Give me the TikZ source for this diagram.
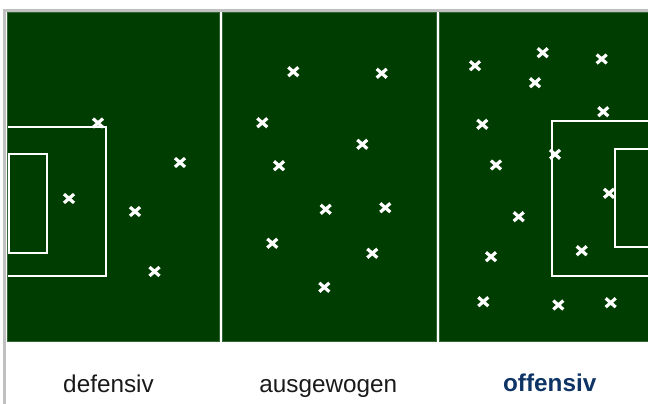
\documentclass[tikz,border=0pt]{standalone}
\usepackage{fontspec}
\setmainfont{Liberation Sans}
\definecolor{pitch}{RGB}{0,61,0}
\definecolor{frame}{RGB}{192,192,192}
\definecolor{labeldark}{RGB}{26,26,26}
\definecolor{labelblue}{RGB}{14,52,102}
\begin{document}
\begin{tikzpicture}[x=1pt,y=-1pt,
  field/.style={fill=pitch,draw=pitch!80!white,line width=0.6pt},
  fieldline/.style={draw=white,line width=2pt},
  playercross/.style={draw=white,line width=3.2pt},
  lbl/.style={anchor=base,inner sep=0pt,font=\fontsize{24.3}{28}\selectfont,text=labeldark},
  lblstrong/.style={lbl,font=\fontsize{24.3}{28}\selectfont\bfseries,text=labelblue}]
\useasboundingbox (0,0) rectangle (648,404);
% outer grey frame
\draw[frame,line width=3pt] (4.5,404) -- (4.5,10.5) -- (648,10.5);
% three pitches
\path[field] (7.5,12.5) rectangle (219.5,341.5);
\path[field] (222.5,12.5) rectangle (436,341.5);
\path[field] (439,12.5) rectangle (652,341.5);
% panel 1 boxes
\draw[fieldline] (7.5,126.5) -- (106,126.5) -- (106,276) -- (7.5,276);
\draw[fieldline] (8.5,154) rectangle (46.5,252.5);
% panel 3 boxes
\begin{scope}
\clip (439,12.5) rectangle (648,341.5);
\draw[fieldline] (552.3,121) rectangle (660,276);
\draw[fieldline] (615,149) rectangle (660,247);
\end{scope}
% crosses
\foreach \px/\py in {98/123,180/162.5,69/198.5,135/211.5,154.5/271.5,
  293.3/71.7,381.7/73.3,262.3/122.7,362.3/144.3,279/165.7,325.7/209.3,385.3/207.7,272.3/243.3,372.3/253.3,324.3/287.3,
  475/65.7,542.7/52.7,601.7/59,535/82.7,603.3/111.7,482.3/124.3,555/154.3,496/165,609/193.3,
  518.7/216.7,491/256.7,581.7/250.7,483.3/301.7,558.3/305,610.7/302.7}
  \draw[playercross] (\px-5,\py-4.4) -- (\px+5,\py+4.4) (\px-5,\py+4.4) -- (\px+5,\py-4.4);
% labels
\node[lbl] (def) at (108.5,392.5) {defensiv};
\node[lbl] (aus) at (328.3,392.5) {ausgewogen};
\node[lblstrong] (off) at (549.7,391.8) {offensiv};
\end{tikzpicture}
\end{document}
